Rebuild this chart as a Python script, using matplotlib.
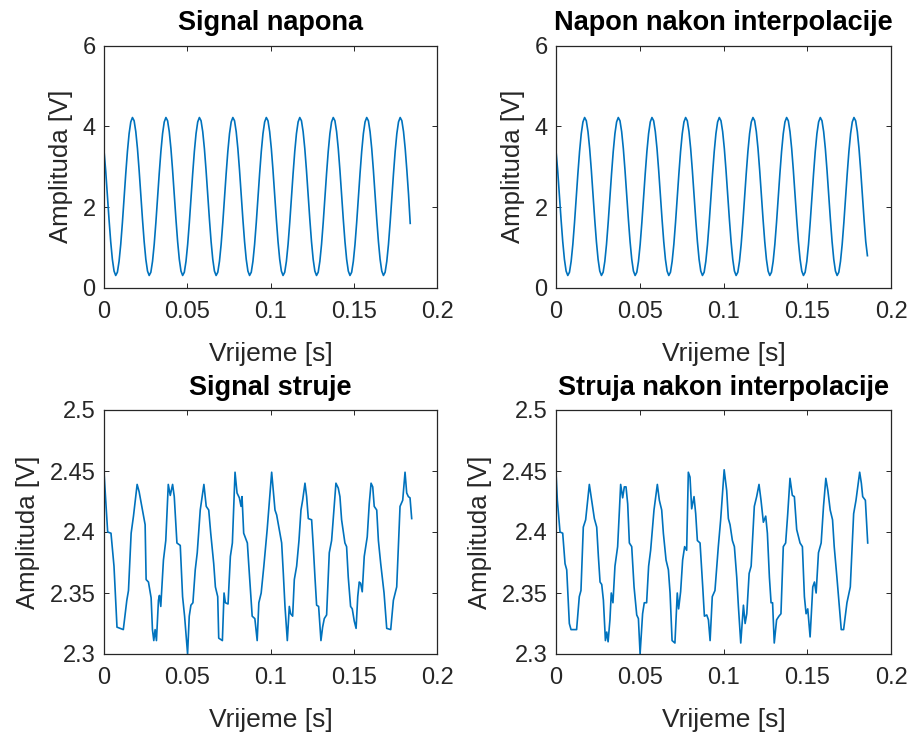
import numpy as np
import matplotlib
matplotlib.use("Agg")
import matplotlib.pyplot as plt

# ---------------- data ----------------
titles = ["Signal napona", "Napon nakon interpolacije", "Signal struje", "Struja nakon interpolacije"]
xlabel_txt = "Vrijeme [s]"
ylabel_txt = "Amplituda [V]"
x_ticks = [0, 0.05, 0.1, 0.15, 0.2]
x_ticklabels = ["0", "0.05", "0.1", "0.15", "0.2"]
y_ticks_napon = [0, 2, 4, 6]
y_ticklabels_napon = ["0", "2", "4", "6"]
y_ticks_struja = [2.3, 2.35, 2.4, 2.45, 2.5]
y_ticklabels_struja = ["2.3", "2.35", "2.4", "2.45", "2.5"]

dt_napon = 0.001005  # sample interval of the voltage signal [s]

napon = [3.40, 2.91, 2.31, 1.70, 1.15, 0.71, 0.42,
         0.31, 0.39, 0.66, 1.08, 1.62, 2.23, 2.83, 3.38, 3.82, 4.11, 4.22, 4.14, 3.87, 3.45, 2.91, 2.31, 1.70, 1.15, 0.71, 0.42,
         0.31, 0.39, 0.66, 1.08, 1.62, 2.23, 2.83, 3.38, 3.82, 4.11, 4.22, 4.14, 3.87, 3.45, 2.91, 2.31, 1.70, 1.15, 0.71, 0.42,
         0.31, 0.39, 0.66, 1.08, 1.62, 2.23, 2.83, 3.38, 3.82, 4.11, 4.22, 4.14, 3.87, 3.45, 2.91, 2.31, 1.70, 1.15, 0.71, 0.42,
         0.31, 0.39, 0.66, 1.08, 1.62, 2.23, 2.83, 3.38, 3.82, 4.11, 4.22, 4.14, 3.87, 3.45, 2.91, 2.31, 1.70, 1.15, 0.71, 0.42,
         0.31, 0.39, 0.66, 1.08, 1.62, 2.23, 2.83, 3.38, 3.82, 4.11, 4.22, 4.14, 3.87, 3.45, 2.91, 2.31, 1.70, 1.15, 0.71, 0.42,
         0.31, 0.39, 0.66, 1.08, 1.62, 2.23, 2.83, 3.38, 3.82, 4.11, 4.22, 4.14, 3.87, 3.45, 2.91, 2.31, 1.70, 1.15, 0.71, 0.42,
         0.31, 0.39, 0.66, 1.08, 1.62, 2.23, 2.83, 3.38, 3.82, 4.11, 4.22, 4.14, 3.87, 3.45, 2.91, 2.31, 1.70, 1.15, 0.71, 0.42,
         0.31, 0.39, 0.66, 1.08, 1.62, 2.23, 2.83, 3.38, 3.82, 4.11, 4.22, 4.14, 3.87, 3.45, 2.91, 2.31, 1.70, 1.15, 0.71, 0.42,
         0.31, 0.39, 0.66, 1.08, 1.62, 2.23, 2.83, 3.38, 3.82, 4.11, 4.22, 4.14, 3.87, 3.45, 2.91, 2.31, 1.60]

napon_interp = [3.40, 2.91, 2.31, 1.70, 1.15, 0.71, 0.42,
         0.31, 0.39, 0.66, 1.08, 1.62, 2.23, 2.83, 3.38, 3.82, 4.11, 4.22, 4.14, 3.87, 3.45, 2.91, 2.31, 1.70, 1.15, 0.71, 0.42,
         0.31, 0.39, 0.66, 1.08, 1.62, 2.23, 2.83, 3.38, 3.82, 4.11, 4.22, 4.14, 3.87, 3.45, 2.91, 2.31, 1.70, 1.15, 0.71, 0.42,
         0.31, 0.39, 0.66, 1.08, 1.62, 2.23, 2.83, 3.38, 3.82, 4.11, 4.22, 4.14, 3.87, 3.45, 2.91, 2.31, 1.70, 1.15, 0.71, 0.42,
         0.31, 0.39, 0.66, 1.08, 1.62, 2.23, 2.83, 3.38, 3.82, 4.11, 4.22, 4.14, 3.87, 3.45, 2.91, 2.31, 1.70, 1.15, 0.71, 0.42,
         0.31, 0.39, 0.66, 1.08, 1.62, 2.23, 2.83, 3.38, 3.82, 4.11, 4.22, 4.14, 3.87, 3.45, 2.91, 2.31, 1.70, 1.15, 0.71, 0.42,
         0.31, 0.39, 0.66, 1.08, 1.62, 2.23, 2.83, 3.38, 3.82, 4.11, 4.22, 4.14, 3.87, 3.45, 2.91, 2.31, 1.70, 1.15, 0.71, 0.42,
         0.31, 0.39, 0.66, 1.08, 1.62, 2.23, 2.83, 3.38, 3.82, 4.11, 4.22, 4.14, 3.87, 3.45, 2.91, 2.31, 1.70, 1.15, 0.71, 0.42,
         0.31, 0.39, 0.66, 1.08, 1.62, 2.23, 2.83, 3.38, 3.82, 4.11, 4.22, 4.14, 3.87, 3.45, 2.91, 2.31, 1.70, 1.15, 0.71, 0.42,
         0.31, 0.39, 0.66, 1.08, 1.62, 2.23, 2.83, 3.38, 3.82, 4.11, 4.22, 4.14, 3.87, 3.45, 2.91, 2.31, 1.70, 1.15, 0.80]

# current signal: time [ms] and value
t_struja_ms = [0, 2.2, 4.2, 6.0, 7.8, 11.6, 13.7, 14.7, 16.3, 17.7, 19.9, 21.1, 23.1, 24.7, 25.3, 26.7,
               28.3, 29.1, 29.9, 30.7, 31.5, 32.7, 33.3, 34.1, 35.7, 37.1, 38.6, 39.8, 41.2, 42.2, 43.8,
               45.8, 47.2, 48.4, 50.2, 51.2, 52.2, 53.4, 54.8, 56.0, 57.8, 60.0, 61.4, 62.9, 64.1, 65.9,
               66.9, 68.3, 68.9, 71.1, 72.1, 72.9, 74.5, 75.9, 77.1, 78.7, 79.9, 81.3, 82.3, 82.9, 83.9,
               86.1, 86.9, 89.0, 90.6, 92.0, 93.0, 94.4, 96.0, 98.0, 100.7, 101.7, 102.7, 103.7, 105.3,
               106.7, 107.7, 108.7, 110.1, 111.3, 112.1, 113.3, 114.3, 115.7, 117.1, 118.3, 119.3, 120.7,
               121.7, 122.7, 124.7, 125.7, 126.7, 127.7, 128.9, 130.3, 131.3, 132.3, 133.7, 135.3, 136.7,
               138.1, 139.3, 140.7, 141.7, 142.7, 144.7, 145.7, 146.7, 148.1, 149.1, 150.3, 151.4, 152.4,
               153.3, 154.1, 155.1, 156.3, 158.1, 159.3, 160.4, 161.4, 162.3, 163.8, 164.8, 166.2, 168.2,
               169.8, 172.2, 173.8, 175.8, 177.8, 179.4, 180.8, 181.8, 182.8, 183.8, 184.8]
struja = [2.449, 2.400, 2.399, 2.372, 2.322, 2.320, 2.344, 2.352, 2.399, 2.413, 2.439, 2.433, 2.418, 2.406, 2.361, 2.359,
          2.346, 2.320, 2.311, 2.320, 2.311, 2.344, 2.348, 2.339, 2.377, 2.393, 2.439, 2.430, 2.439, 2.429, 2.391,
          2.389, 2.347, 2.331, 2.300, 2.331, 2.340, 2.342, 2.369, 2.383, 2.418, 2.439, 2.421, 2.418, 2.399, 2.374,
          2.355, 2.347, 2.313, 2.311, 2.350, 2.342, 2.341, 2.380, 2.391, 2.449, 2.432, 2.428, 2.421, 2.429, 2.399,
          2.391, 2.374, 2.331, 2.329, 2.311, 2.342, 2.350, 2.372, 2.402, 2.449, 2.434, 2.418, 2.414, 2.402,
          2.391, 2.366, 2.339, 2.311, 2.339, 2.333, 2.331, 2.361, 2.372, 2.393, 2.418, 2.426, 2.440,
          2.429, 2.411, 2.410, 2.388, 2.363, 2.340, 2.339, 2.311, 2.322, 2.329, 2.332, 2.383, 2.393,
          2.418, 2.440, 2.436, 2.429, 2.410, 2.391, 2.388, 2.363, 2.339, 2.337, 2.327, 2.321, 2.347,
          2.359, 2.358, 2.351, 2.380, 2.396, 2.423, 2.440, 2.437, 2.421, 2.418, 2.393, 2.374, 2.350,
          2.321, 2.320, 2.344, 2.355, 2.421, 2.426, 2.449, 2.432, 2.429, 2.428, 2.411]

t_struja_interp_ms = [0, 0.8, 2.4, 4.0, 5.4, 6.4, 7.96, 8.96, 12.3, 13.9, 14.9, 16.3, 17.7, 19.9, 21.3, 22.9,
                      24.3, 25.3, 26.3, 27.3, 28.3, 29.5, 30.3, 31.1, 32.2, 33.0, 34.0, 35.2, 36.8, 38.6, 39.8,
                      40.8, 41.8, 42.8, 43.8, 45.2, 46.6, 48.2, 49.2, 50.2, 51.7, 52.7, 54.1, 55.3, 56.5, 58.5,
                      60.5, 61.7, 63.1, 64.1, 65.7, 67.1, 68.1, 69.3, 71.0, 72.4, 73.2, 74.4, 75.6, 76.8, 78.0,
                      79.0, 80.0, 81.0, 82.4, 83.4, 84.4, 86.0, 87.6, 88.6, 90.0, 91.0, 92.0, 93.3, 94.9, 96.9,
                      98.3, 100.4, 101.9, 102.9, 103.9, 105.3, 106.5, 107.9, 108.9, 110.3, 111.9, 112.9, 113.9,
                      115.3, 116.5, 118.4, 119.8, 121.2, 122.4, 123.8, 125.2, 126.2, 127.4, 128.4, 129.3, 130.3,
                      131.7, 133.1, 134.3, 135.7, 137.1, 138.3, 139.7, 141.1, 142.3, 143.7, 145.7, 147.1, 148.3,
                      149.3, 150.3, 151.7, 153.3, 154.3, 155.3, 156.7, 158.3, 159.7, 161.1, 162.3, 163.7, 165.1,
                      166.1, 167.7, 170.3, 171.7, 173.7, 175.7, 177.7, 179.1, 181.3, 182.3, 183.1, 184.7, 186.1]
struja_interp = [2.449, 2.426, 2.400, 2.399, 2.374, 2.369, 2.325, 2.320, 2.320, 2.347, 2.352, 2.404, 2.410, 2.439, 2.426, 2.411,
                 2.404, 2.380, 2.359, 2.357, 2.344, 2.311, 2.318, 2.310, 2.328, 2.350, 2.342, 2.372, 2.388, 2.439, 2.428,
                 2.437, 2.437, 2.423, 2.391, 2.388, 2.355, 2.332, 2.329, 2.300, 2.333, 2.342, 2.342, 2.372, 2.385, 2.418,
                 2.439, 2.426, 2.418, 2.399, 2.377, 2.369, 2.350, 2.311, 2.309, 2.350, 2.337, 2.351, 2.377, 2.388, 2.385,
                 2.449, 2.445, 2.419, 2.429, 2.415, 2.393, 2.391, 2.355, 2.331, 2.332, 2.328, 2.311, 2.347, 2.352, 2.388,
                 2.410, 2.451, 2.434, 2.411, 2.406, 2.393, 2.388, 2.363, 2.339, 2.309, 2.340, 2.325, 2.333,
                 2.366, 2.372, 2.421, 2.429, 2.439, 2.426, 2.408, 2.413, 2.399, 2.363, 2.342, 2.342, 2.309,
                 2.328, 2.331, 2.333, 2.388, 2.391, 2.414, 2.444, 2.430, 2.429, 2.402, 2.391, 2.388, 2.347,
                 2.333, 2.337, 2.314, 2.355, 2.359, 2.350, 2.383, 2.391, 2.421, 2.444, 2.434, 2.418, 2.410,
                 2.388, 2.363, 2.320, 2.320, 2.342, 2.355, 2.415, 2.426, 2.449, 2.440, 2.429, 2.426, 2.391]

# ---------------- style ----------------
plt.rcParams['font.family'] = ['Liberation Sans', 'DejaVu Sans']
line_color = '#0072BD'
ax_color = '#262626'
W, H = 909, 735
fig = plt.figure(figsize=(W / 100, H / 100), dpi=100)

def px_rect(x0, y0, x1, y1):
    return [x0 / W, 1 - y1 / H, (x1 - x0) / W, (y1 - y0) / H]

rects = [px_rect(104, 45.6, 437, 288), px_rect(556, 45.6, 891, 288),
         px_rect(104, 410, 437, 654), px_rect(556, 410, 891, 654)]

t_n = np.arange(len(napon)) * dt_napon
t_ni = np.arange(len(napon_interp)) * dt_napon
t_s = np.array(t_struja_ms) / 1000.0
t_si = np.array(t_struja_interp_ms) / 1000.0
series = [(t_n, napon), (t_ni, napon_interp), (t_s, struja), (t_si, struja_interp)]

for i, (rect, (tt, yy)) in enumerate(zip(rects, series)):
    ax = fig.add_axes(rect)
    ax.plot(tt, yy, color=line_color, lw=1.2)
    ax.set_xlim(0, 0.2)
    ax.set_xticks(x_ticks)
    ax.set_xticklabels(x_ticklabels)
    if i < 2:
        ax.set_ylim(0, 6)
        ax.set_yticks(y_ticks_napon)
        ax.set_yticklabels(y_ticklabels_napon)
    else:
        ax.set_ylim(2.3, 2.5)
        ax.set_yticks(y_ticks_struja)
        ax.set_yticklabels(y_ticklabels_struja)
    for s in ax.spines.values():
        s.set_color(ax_color)
        s.set_linewidth(0.9)
    ax.tick_params(direction='in', length=3.5, width=0.7, colors=ax_color,
                   labelsize=17, top=True, right=True)
    ax.tick_params(axis='x', pad=9)
    ax.tick_params(axis='y', pad=6)
    ax.set_xlabel(xlabel_txt, fontsize=19, color=ax_color, labelpad=14)
    ax.set_ylabel(ylabel_txt, fontsize=18.5, color=ax_color, labelpad=7)
    ax.set_title(titles[i], fontsize=19.5, fontweight='bold', color='black', pad=11)

fig.savefig("out.png", dpi=100)
